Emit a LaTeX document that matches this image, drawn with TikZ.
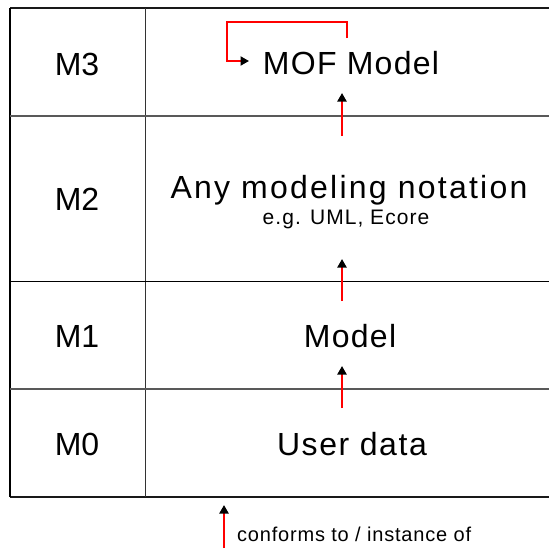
\documentclass[tikz,border=0pt]{standalone}
\usepackage{fontspec}
\setmainfont{Liberation Sans}
\usetikzlibrary{arrows.meta,calc}
\newcommand{\spaced}[1]{\addfontfeature{LetterSpace=#1}}
\begin{document}
\begin{tikzpicture}[x=1pt,y=-1pt,
  lvl/.style={font=\fontsize{32}{36}\selectfont, inner sep=0pt, anchor=base},
  big/.style={font=\fontsize{32}{36}\selectfont, inner sep=0pt, anchor=base},
  small/.style={font=\fontsize{21}{24}\selectfont, inner sep=0pt, anchor=base},
  legend/.style={font=\fontsize{20}{22}\selectfont, inner sep=0pt, anchor=base west},
  rel/.style={draw=red, line width=2pt, -{Triangle[length=8.5pt,width=9pt,black]}},
  frame/.style={line width=2pt, black!90},
  rowline/.style={line width=1.5pt, black!65},
  colline/.style={line width=1pt, black!80}]
\useasboundingbox (0,0) rectangle (549,549);

% table frame
\draw[frame] (10,8) -- (549,8);
\draw[frame] (10,497) -- (549,497);
\draw[line width=1.5pt] (10,8) -- (10,497);
\draw[colline] (145,8) -- (145,497);
\draw[rowline] (10,116) -- (549,116);
\draw[line width=1pt] (10,281) -- (549,281);
\draw[rowline] (10,389) -- (549,389);

% level names
\node[lvl] (m3) at (77,75) {M3};
\node[lvl] (m2) at (77,210) {M2};
\node[lvl] (m1) at (77,347) {M1};
\node[lvl] (m0) at (77,455) {M0};

% contents of each level
\node[big] (mof) at (351,74) {\spaced{4}MOF Model};
\node[big] (any) at (349,198) {\spaced{7}Any modeling notation};
\node[small] (eg) at (346,224) {\spaced{5}e.g. UML, Ecore};
\node[big] (model) at (350,347) {\spaced{4}Model};
\node[big] (user) at (352,455) {\spaced{5}User data};

% arrow end points
\coordinate (mofIn) at (342,93);
\coordinate (anyOut) at (342,136);
\coordinate (anyIn) at (342,259);
\coordinate (modelOut) at (342,301);
\coordinate (modelIn) at (342,366);
\coordinate (userOut) at (342,408);
\coordinate (loopOut) at (347,38);
\coordinate (loopIn) at (249,61);
\coordinate (keyOut) at (224,548);
\coordinate (keyIn) at (224,505);

% conformance arrows
\draw[rel] (anyOut) -- (mofIn);
\draw[rel] (modelOut) -- (anyIn);
\draw[rel] (userOut) -- (modelIn);
\draw[rel] (loopOut) -- (347,22) -- (227,22) -- (227,61) -- (loopIn);

% legend
\draw[rel] (keyOut) -- (keyIn);
\node[legend] (key) at (237,541) {\spaced{4}conforms to / instance of};
\end{tikzpicture}
\end{document}
